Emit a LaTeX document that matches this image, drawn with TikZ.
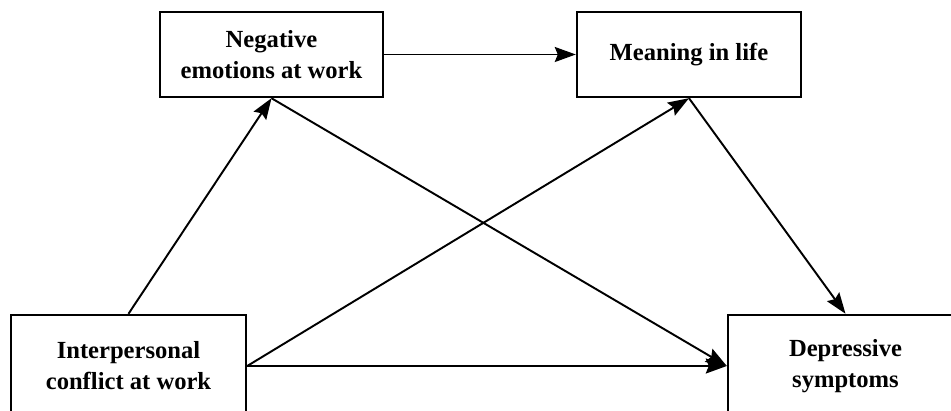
\documentclass[tikz,border=0pt]{standalone}
\usepackage{fontspec}
\setmainfont{Liberation Serif}
\usetikzlibrary{arrows.meta}

\begin{document}
\begin{tikzpicture}[x=0.02cm,y=-0.02cm,>={Stealth[length=4.2mm,width=3mm,inset=0.6mm]},
  font=\fontsize{14}{17.6}\selectfont\bfseries,
  var/.style={draw,line width=1.4pt,align=center,inner sep=0pt},
  path/.style={->,line width=1.1pt}]
\useasboundingbox (0,0) rectangle (951,411);
\node[var,minimum width=4.46cm,minimum height=1.70cm] (neg) at (271.5,54.5) {Negative\\emotions at work};
\node[var,minimum width=4.48cm,minimum height=1.70cm] (mean) at (689,54.5) {Meaning in life};
\node[var,minimum width=4.70cm,minimum height=2.04cm] (inter) at (128.5,366) {Interpersonal\\conflict at work};
\node[var,minimum width=4.70cm,minimum height=2.04cm] (dep) at (845.5,366) {Depressive\\symptoms};
% paths
\draw[path] (inter.north) -- (neg.south);
\draw[path] (neg.east) -- (mean.west);
\draw[path] (neg.south) -- (dep.west);
\draw[path] (inter.east) -- (mean.south);
\draw[path] (inter.east) -- (dep.west);
\draw[path] (mean.south) -- (dep.north);
\end{tikzpicture}
\end{document}
